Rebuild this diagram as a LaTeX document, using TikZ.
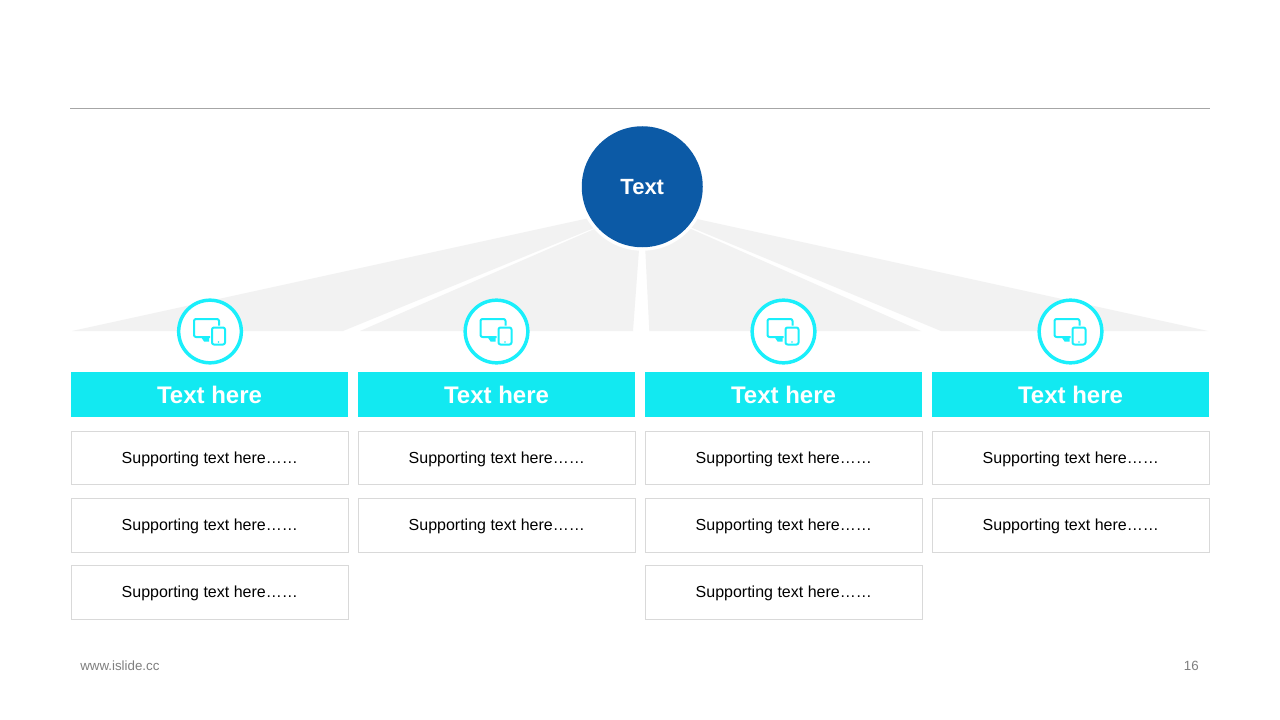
\documentclass[tikz,border=0pt]{standalone}
\usepackage{fontspec}
\setmainfont{Liberation Sans}
\definecolor{fanc}{HTML}{F2F2F2}
\definecolor{bluec}{HTML}{0C5AA6}
\definecolor{barc}{HTML}{12E9F1}
\definecolor{ringc}{HTML}{1AEFFB}
\definecolor{boxc}{HTML}{D9D9D9}
\definecolor{rulec}{HTML}{A6A6A6}
\definecolor{footc}{HTML}{7F7F7F}
\tikzset{
  fan/.style={fill=fanc,draw=none},
  barbox/.style={fill=barc,draw=none,minimum width=207.75pt,minimum height=33.75pt,inner sep=0pt,text=white,font=\fontsize{18}{20}\selectfont\bfseries},
  subbox/.style={fill=white,draw=boxc,line width=0.75pt,minimum width=208pt,minimum height=40pt,inner sep=0pt,text=black,text height=10.7pt,text depth=2.55pt,font=\fontsize{12}{14}\selectfont},
  ring/.style={circle,fill=white,draw=ringc,line width=2.6pt,minimum size=47pt,inner sep=0pt},
  iconline/.style={draw=ringc,line width=1.5pt,line join=round},
  foot/.style={text=footc,font=\fontsize{10}{12}\selectfont,inner sep=0pt}
}
\begin{document}
\begin{tikzpicture}[x=0.75pt,y=-0.75pt]
\useasboundingbox (0,0) rectangle (1280,720);
\fill[white] (0,0) rectangle (1280,720);
\coordinate (rl) at (70,108.5);
\coordinate (rr) at (1210,108.5);
\draw[rulec,line width=0.75pt] (rl) -- (rr);
\fill[fan] (72,331) -- (343,331) -- (600,225.6) -- (600,215.7) -- cycle;
\fill[fan] (360,331) -- (633,331) -- (639.7,240) -- (600,226.6) -- cycle;
\fill[fan] (649.3,331) -- (921,331) -- (685,226.3) -- (644.8,240) -- cycle;
\fill[fan] (941,331) -- (1208,331) -- (690,217.5) -- (690,227) -- cycle;
\node[circle,fill=white,minimum size=96pt,inner sep=0pt] (hubring) at (642.25,186.75) {};
\node[circle,fill=bluec,minimum size=90.75pt,inner sep=0pt,text=white,font=\fontsize{16.5}{18}\selectfont\bfseries] (hub) at (642.25,186.75) {Text};
\foreach \n/\x in {a/210,b/496.5,c/783.5,d/1070.5}{
  \node[ring] (ring\n) at (\x,331.5) {};
  \begin{scope}[shift={(\x-210,0)}]
    \draw[iconline] (219,325.5) -- (219,321) to[out=90,in=0] (217,319) -- (196,319) to[out=180,in=90] (194,321) -- (194,335) to[out=-90,in=180] (196,337) -- (210,337);
    \fill[ringc] (201,337) -- (209,337) -- (209,341.5) -- (204,341.5) -- cycle;
    \draw[iconline,rounded corners=1.5pt] (212,327.5) rectangle (225,344.5);
    \fill[ringc] (218.5,342) circle (0.9);
  \end{scope}
}
\node[barbox] (bara) at (209.5,394.5) {Text here};
\node[barbox] (barb) at (496.5,394.5) {Text here};
\node[barbox] (barc) at (783.5,394.5) {Text here};
\node[barbox] (bard) at (1070.5,394.5) {Text here};
\node[subbox] (a1) at (209.75,458) {Supporting text here……};
\node[subbox] (a2) at (209.75,525.5) {Supporting text here……};
\node[subbox] (a3) at (209.75,592.5) {Supporting text here……};
\node[subbox] (b1) at (496.75,458) {Supporting text here……};
\node[subbox] (b2) at (496.75,525.5) {Supporting text here……};
\node[subbox] (c1) at (783.75,458) {Supporting text here……};
\node[subbox] (c2) at (783.75,525.5) {Supporting text here……};
\node[subbox] (c3) at (783.75,592.5) {Supporting text here……};
\node[subbox] (d1) at (1070.75,458) {Supporting text here……};
\node[subbox] (d2) at (1070.75,525.5) {Supporting text here……};
\node[foot,anchor=west] (url) at (80,666) {www.islide.cc};
\node[foot,anchor=east] (page) at (1199,666) {16};
\end{tikzpicture}
\end{document}
